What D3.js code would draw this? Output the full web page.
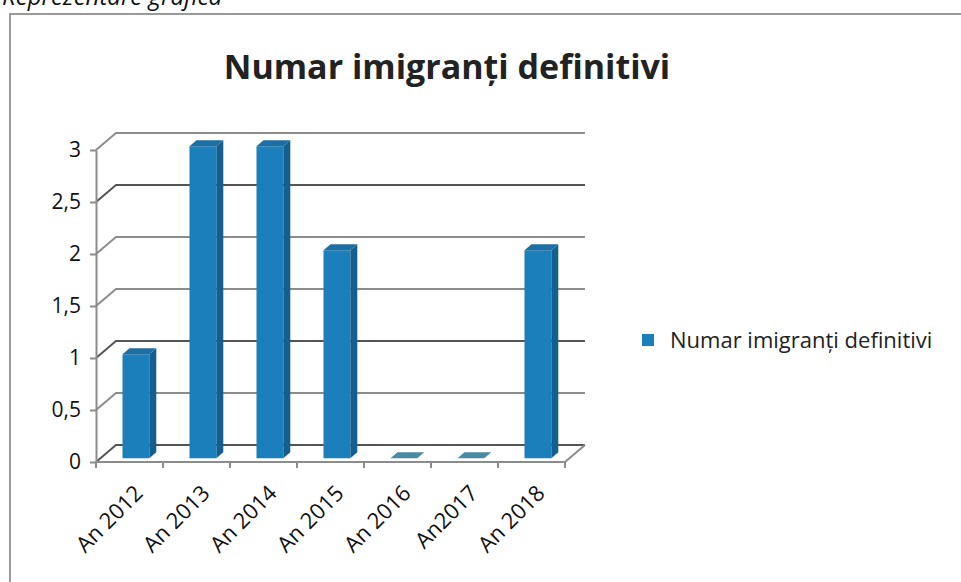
<!DOCTYPE html>
<html>
<head>
<meta charset="utf-8">
<script src="https://cdn.jsdelivr.net/npm/d3@7"></script>
<style>
  body { margin: 0; background: #fff; }
  svg { display: block; }
</style>
</head>
<body>
<script>
const categories = ["An 2012", "An 2013", "An 2014", "An 2015", "An 2016", "An2017", "An 2018"];
const values = [1, 3, 3, 2, 0, 0, 2];
const yTicks = [0, 0.5, 1, 1.5, 2, 2.5, 3];
const seriesName = "Numar imigranți definitivi";

const width = 961, height = 582;
const depth = { dx: 20, dy: -17 };

const svg = d3.select("body").append("svg")
  .attr("width", width)
  .attr("height", height);

// caption of the page, cut at the top like in the scan
svg.append("text")
  .attr("x", 2).attr("y", 5)
  .attr("font-family", "Open Sans, sans-serif")
  .attr("font-style", "italic")
  .attr("font-size", 24)
  .attr("fill", "#111")
  .text("Reprezentare grafica");

// chart frame
svg.append("rect")
  .attr("x", 10).attr("y", 14)
  .attr("width", 1000).attr("height", 600)
  .attr("fill", "none")
  .attr("stroke", "#9a9a9a")
  .attr("stroke-width", 2);

svg.append("text")
  .attr("x", 447).attr("y", 79)
  .attr("text-anchor", "middle")
  .attr("font-family", "Open Sans, sans-serif")
  .attr("font-weight", "bold")
  .attr("font-size", 34)
  .attr("fill", "#222")
  .text("Numar imigranți definitivi");

const x = d3.scaleBand()
  .domain(categories)
  .range([96, 565]);

const y = d3.scaleLinear()
  .domain([0, 3])
  .range([462, 150]);

const plot = svg.append("g");
const [x0, x1] = x.range();

// walls and gridlines
plot.selectAll("path.grid")
  .data(yTicks)
  .join("path")
  .attr("class", "grid")
  .attr("fill", "none")
  .attr("stroke", d => (d === 2.5 || d === 1 || d === 0) ? "#555" : "#8c8c8c")
  .attr("stroke-width", 2)
  .attr("d", d => `M${x0},${y(d)}L${x0 + depth.dx},${y(d) + depth.dy}L${x1 + depth.dx},${y(d) + depth.dy}`);

// floor front edge
plot.append("path")
  .attr("fill", "none")
  .attr("stroke", "#8c8c8c")
  .attr("stroke-width", 2)
  .attr("d", `M${x0},${y(0)}L${x1},${y(0)}L${x1 + depth.dx},${y(0) + depth.dy}`);

// category ticks
plot.selectAll("line.xtick")
  .data(categories.concat([null]))
  .join("line")
  .attr("class", "xtick")
  .attr("x1", (d, i) => x0 + i * x.step())
  .attr("x2", (d, i) => x0 + i * x.step())
  .attr("y1", y(0))
  .attr("y2", y(0) + 6)
  .attr("stroke", "#8c8c8c")
  .attr("stroke-width", 2);

// y axis
const yAxis = d3.axisLeft(y)
  .tickValues(yTicks)
  .tickSize(6)
  .tickSizeOuter(0)
  .tickPadding(9)
  .tickFormat(d => String(d).replace(".", ","));

const yAxisGroup = plot.append("g")
  .attr("transform", `translate(${x0},0)`)
  .call(yAxis);
yAxisGroup.selectAll("path, line")
  .attr("stroke", "#8c8c8c")
  .attr("stroke-width", 2);
yAxisGroup.selectAll("text")
  .attr("font-family", "Open Sans, sans-serif")
  .attr("font-size", 21)
  .attr("fill", "#111");

// x labels
const xAxisGroup = plot.append("g")
  .attr("transform", `translate(0,${y(0) + 28})`)
  .call(d3.axisBottom(x).tickSize(0).tickPadding(0));
xAxisGroup.select(".domain").remove();
xAxisGroup.selectAll("text")
  .attr("font-family", "Open Sans, sans-serif")
  .attr("font-size", 22)
  .attr("fill", "#111")
  .attr("text-anchor", "end")
  .attr("dy", "0.3em")
  .attr("transform", "translate(10,0) rotate(-45)");

// bars
const barW = x.bandwidth() * 0.4;
const front = { dx: depth.dx * 0.22, dy: depth.dy * 0.22 };
const side = { dx: 7, dy: -6 };

const bars = plot.selectAll("g.bar")
  .data(categories.map((c, i) => ({ c, v: values[i] })))
  .join("g")
  .attr("class", "bar");

bars.each(function(d) {
  const g = d3.select(this);
  const xl = x(d.c) + (x.bandwidth() - barW) / 2 + front.dx + 2;
  const xr = xl + barW;
  const yb = y(0) + front.dy;
  const yt = y(d.v) + front.dy;
  if (d.v === 0) {
    g.append("path")
      .attr("fill", "#4a8aa4")
      .attr("d", `M${xl},${yb}L${xr},${yb}L${xr + side.dx},${yb + side.dy}L${xl + side.dx},${yb + side.dy}Z`);
    return;
  }
  g.append("path")
    .attr("fill", "#145f8f")
    .attr("d", `M${xr},${yt}L${xr + side.dx},${yt + side.dy}L${xr + side.dx},${yb + side.dy}L${xr},${yb}Z`);
  g.append("rect")
    .attr("x", xl).attr("y", yt)
    .attr("width", barW).attr("height", yb - yt)
    .attr("fill", "#1a7fba");
  g.append("path")
    .attr("fill", "#1c6ea3")
    .attr("d", `M${xl},${yt}L${xr},${yt}L${xr + side.dx},${yt + side.dy}L${xl + side.dx},${yt + side.dy}Z`);
});

// legend
const legend = svg.append("g").attr("transform", "translate(642,334)");
legend.append("rect")
  .attr("width", 12).attr("height", 12)
  .attr("fill", "#1a7fba");
legend.append("text")
  .attr("x", 28).attr("y", 6)
  .attr("dy", "0.35em")
  .attr("font-family", "Open Sans, sans-serif")
  .attr("font-size", 22)
  .attr("fill", "#222")
  .text(seriesName);
</script>
</body>
</html>
